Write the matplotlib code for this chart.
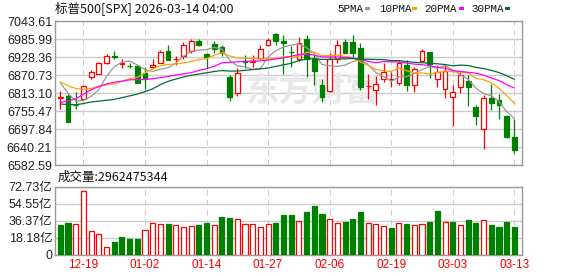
import matplotlib
matplotlib.use('Agg')
import matplotlib.pyplot as plt
from matplotlib.patches import Rectangle
import numpy as np
import pandas as pd

# ---------------------- Data (S&P 500 daily)

dates = ['12-16', '12-17', '12-18', '12-19', '12-22', '12-23', '12-24', '12-26', '12-29', '12-30',
         '12-31', '01-02', '01-05', '01-06', '01-07', '01-08', '01-09', '01-12', '01-13', '01-14',
         '01-15', '01-16', '01-20', '01-21', '01-22', '01-23', '01-26', '01-27', '01-28', '01-29',
         '01-30', '02-02', '02-03', '02-04', '02-05', '02-06', '02-09', '02-10', '02-11', '02-12',
         '02-13', '02-17', '02-18', '02-19', '02-20', '02-23', '02-24', '02-25', '02-26', '02-27',
         '03-02', '03-03', '03-04', '03-05', '03-06', '03-09', '03-10', '03-11', '03-12', '03-13']

open_ = [6798.0, 6804.4, 6777.0, 6794.8, 6866.3, 6874.9, 6909.0, 6934.0, 6908.0, 6901.5,
         6900.5, 6879.1, 6896.2, 6911.2, 6947.4, 6921.5, 6932.5, 6947.4, 6981.6, 6938.9,
         6970.9, 6962.4, 6864.2, 6813.0, 6917.0, 6913.0, 6927.1, 6967.7, 7003.0, 6981.0,
         6946.0, 6921.8, 6985.9, 6924.0, 6838.6, 6819.4, 6924.0, 6977.3, 6977.3, 6958.1,
         6835.0, 6823.7, 6857.8, 6858.0, 6845.0, 6902.6, 6840.7, 6917.6, 6945.3, 6859.9,
         6827.9, 6802.3, 6834.3, 6851.4, 6768.2, 6699.9, 6798.0, 6791.6, 6740.4, 6674.3]
high = [6821.5, 6810.8, 6818.3, 6838.6, 6887.7, 6913.3, 6938.9, 6947.4, 6921.8, 6911.2,
        6901.5, 6896.2, 6921.8, 6951.7, 6966.7, 6932.5, 6977.3, 6985.9, 6985.9, 6941.0,
        6981.6, 6968.8, 6871.7, 6893.0, 6936.8, 6936.8, 6966.7, 6990.1, 7005.1, 6998.7,
        6964.5, 6994.4, 6998.7, 6934.7, 6857.8, 6941.0, 6983.7, 6985.9, 6998.7, 6973.1,
        6874.9, 6868.5, 6911.2, 6881.3, 6915.4, 6919.7, 6898.4, 6956.0, 6946.0, 6902.6,
        6906.9, 6838.6, 6885.5, 6870.6, 6774.6, 6806.6, 6842.9, 6810.8, 6742.5, 6731.9]
low = [6761.8, 6721.0, 6761.8, 6793.8, 6857.8, 6873.8, 6908.0, 6924.0, 6893.0, 6893.0,
       6846.0, 6825.8, 6895.0, 6909.0, 6919.0, 6903.7, 6924.0, 6941.0, 6964.5, 6893.0,
       6943.2, 6932.5, 6789.5, 6804.4, 6894.1, 6898.4, 6924.0, 6964.5, 6966.7, 6874.9,
       6898.4, 6917.6, 6864.2, 6840.7, 6785.2, 6817.3, 6909.0, 6941.0, 6930.4, 6823.7,
       6795.9, 6776.7, 6849.3, 6834.3, 6838.6, 6821.5, 6817.3, 6915.4, 6862.1, 6834.3,
       6798.0, 6708.4, 6815.1, 6772.4, 6712.7, 6635.8, 6759.6, 6731.9, 6670.0, 6623.0]
close = [6800.2, 6722.3, 6774.8, 6836.5, 6881.3, 6911.2, 6932.0, 6930.0, 6910.0, 6899.5,
         6847.1, 6857.8, 6902.6, 6945.3, 6921.0, 6923.0, 6966.7, 6979.5, 6966.7, 6930.4,
         6956.0, 6941.0, 6800.2, 6877.0, 6914.0, 6916.0, 6954.9, 6982.8, 6981.0, 6973.1,
         6944.0, 6975.2, 6921.8, 6885.5, 6800.2, 6921.8, 6966.7, 6943.2, 6941.0, 6834.3,
         6837.0, 6842.9, 6881.3, 6860.0, 6909.0, 6840.7, 6889.8, 6947.4, 6906.9, 6881.0,
         6885.0, 6817.3, 6870.6, 6834.3, 6740.4, 6798.0, 6783.1, 6776.7, 6674.3, 6631.5]

# volume in 亿 shares
vol = [32.0, 34.1, 32.7, 67.8, 25.6, 22.0, 8.2, 13.8, 19.2, 17.0,
       17.0, 26.3, 34.1, 33.0, 33.0, 32.0, 29.8, 30.5, 32.0, 34.1,
       32.0, 40.5, 39.4, 38.0, 33.0, 33.0, 29.5, 33.0, 34.1, 42.2,
       42.6, 35.9, 45.8, 52.2, 43.7, 38.0, 34.1, 35.1, 38.3, 45.8,
       34.1, 33.0, 30.9, 28.8, 34.1, 33.0, 32.0, 33.0, 35.1, 47.0,
       35.1, 35.1, 32.0, 37.3, 34.1, 37.3, 32.0, 29.8, 35.1, 29.62]

# closes before the window (needed for the moving averages at the left edge)
pre_close = [6771.55, 6796.29, 6720.32, 6728.80, 6832.43, 6846.61, 6850.92, 6737.49, 6734.11, 6672.41,
             6617.32, 6642.16, 6538.76, 6602.99, 6705.12, 6765.88, 6812.61, 6849.09, 6812.63, 6829.37,
             6849.72, 6857.12, 6870.40, 6846.51, 6840.51, 6886.68, 6901.00, 6827.41, 6816.51]

tick_dates = ['12-19', '01-02', '01-14', '01-27', '02-06', '02-19', '03-03', '03-13']
price_ticks = [6582.59, 6640.21, 6697.84, 6755.47, 6813.10, 6870.73, 6928.36, 6985.99, 7043.61]
vol_ticks = [0, 18.18, 36.37, 54.55, 72.73]
ma_periods = [5, 10, 20, 30]
ma_colors = ['#999999', '#ffa500', '#ff00ff', '#006e33']

title = '标普500[SPX] 2026-03-14 04:00'
vol_title = '成交量:2962475344'

# ---------------------- Style

RED = '#ff0000'
GREEN = '#008000'
GRID = '#cccccc'
BORDER = '#999999'
CJK = ['Noto Sans CJK SC', 'DejaVu Sans']
NUM = ['Liberation Sans', 'Noto Sans CJK SC']

n = len(close)
x = np.arange(n)
o = np.array(open_)
c = np.array(close)
up = c >= o
allc = pd.Series(pre_close + close)
prev = np.array(([pre_close[-1]] + close)[:-1])
vol_up = c >= prev

fig = plt.figure(figsize=(5.78, 2.76), dpi=100)
ax = fig.add_axes([0.0952, 0.4011, 0.8080, 0.5217])
axv = fig.add_axes([0.0952, 0.0761, 0.8080, 0.2475])

tick_pos = [dates.index(d) for d in tick_dates]

for a in (ax, axv):
    a.set_xlim(-0.69, 60.0)
    a.set_xticks(tick_pos)
    a.grid(axis='y', color=GRID, lw=1, ls='-', zorder=0)
    a.grid(axis='x', color=GRID, lw=0.8, ls=(0, (5, 4)), zorder=0)
    a.set_axisbelow(True)
    for s in a.spines.values():
        s.set_color(BORDER)
        s.set_linewidth(1)
    a.tick_params(length=0, pad=2, labelsize=9, labelcolor='#222222')

# ---------------------- Candles

body = np.maximum(np.abs(c - o), 0.8)
bottom = np.minimum(o, c)
colors = np.where(up, RED, GREEN)
ax.vlines(x, low, high, colors=colors, lw=0.9, zorder=2)
ax.bar(x, body, bottom=bottom, width=0.62, facecolor=np.where(up, 'white', GREEN),
       edgecolor=colors, linewidth=0.9, zorder=3)

for p, col in zip(ma_periods, ma_colors):
    ma = allc.rolling(p).mean().values[-n:]
    ax.plot(x, ma, color=col, lw=0.9, zorder=4)

ax.set_ylim(price_ticks[0], price_ticks[-1])
ax.set_yticks(price_ticks)
ax.set_yticklabels(['%.2f' % t for t in price_ticks], family=NUM)
ax.set_xticklabels([])

# faint watermark
ax.text(0.55, 0.51, '东方财富', transform=ax.transAxes, fontsize=24, fontweight='bold',
        color='#e8e8ea', family=CJK, ha='center', va='center', zorder=1)

# ---------------------- Volume

vcol = np.where(vol_up, RED, GREEN)
axv.bar(x, vol, width=0.66, facecolor=np.where(vol_up, 'white', GREEN),
        edgecolor=vcol, linewidth=0.9, zorder=3)
axv.set_ylim(0, vol_ticks[-1])
axv.set_yticks(vol_ticks)
axv.set_yticklabels(['0'] + ['%.2f亿' % t for t in vol_ticks[1:]], family=NUM)
axv.set_xticklabels(tick_dates, color=RED, fontsize=8.5, family=NUM)
axv.tick_params(axis='x', pad=3)

# ---------------------- Texts and legend

fig.text(55 / 578, 1 - 8.5 / 276, title, fontsize=9, family=CJK, va='center', ha='left', color='#111111')
fig.text(58 / 578, 1 - 177 / 276, vol_title, fontsize=9, family=CJK, va='center', ha='left', color='#111111')

leg_text_x = [337, 379, 424, 471]
leg_box_x = [365, 412, 459, 505]
for p, col, tx, bx in zip(ma_periods, ma_colors, leg_text_x, leg_box_x):
    fig.text(tx / 578, 1 - 8.5 / 276, '%dPMA' % p, fontsize=7.8, family='Liberation Mono',
             va='center', ha='left', color='#111111')
    fig.patches.append(Rectangle((bx / 578, 1 - 10 / 276), 5 / 578, 3 / 276,
                                 transform=fig.transFigure, facecolor=col, edgecolor='none'))

fig.savefig('out.png', dpi=100)
